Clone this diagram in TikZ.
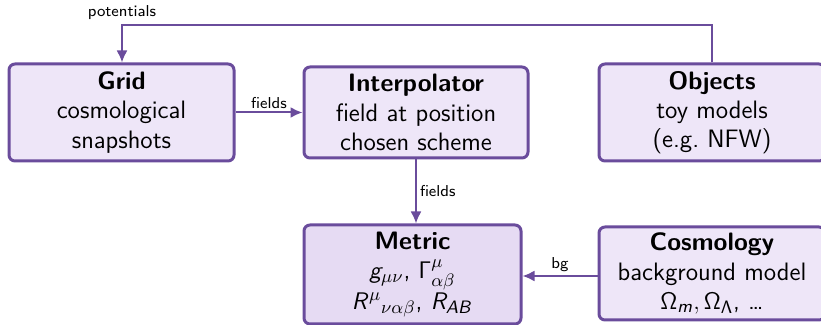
\documentclass[tikz,border=0pt]{standalone}
\usetikzlibrary{arrows.meta}
\DeclareMathAlphabet{\mathsfit}{OT1}{cmss}{m}{sl}
\definecolor{edgepurple}{RGB}{106,76,156}
\definecolor{boxfill}{RGB}{238,230,248}
\definecolor{metricfill}{RGB}{230,219,243}
\begin{document}
\begin{tikzpicture}[x=0.5pt,y=-0.5pt,
  block/.style={draw=edgepurple, fill=boxfill, line width=1.5pt, rounded corners=3pt,
    align=center, font=\sffamily\fontsize{12.6}{14.6}\selectfont, inner sep=0pt},
  flow/.style={draw=edgepurple, line width=1pt, -{Latex[length=6pt,width=5.5pt]}},
  flowlabel/.style={font=\sffamily\fontsize{7.9}{9}\selectfont, inner sep=1.5pt}]
\useasboundingbox (0,0) rectangle (821,325);
\clip (0,0) rectangle (821,325);

\node[block, minimum width=112.5pt, minimum height=48.5pt] (grid) at (121.5,112.5)
  {\textbf{Grid}\\cosmological\\snapshots};
\node[block, minimum width=112pt, minimum height=45.5pt] (interp) at (416,112.5)
  {\textbf{Interpolator}\\field at position\\chosen scheme};
\node[block, minimum width=113pt, minimum height=48.5pt] (objects) at (712,112.5)
  {\textbf{Objects}\\toy models\\(e.g.\ NFW)};
\node[block, fill=metricfill, minimum width=108.5pt, minimum height=49.5pt] (metric) at (412.5,274.5)
  {\textbf{Metric}\\
   $\mathsfit{g}_{\mu\nu}$, $\mathsf{\Gamma}^{\mu}_{\alpha\beta}$\\[0.5pt]
   $\mathsfit{R}^{\mu}{}_{\nu\alpha\beta}$, $\mathsfit{R}_{\mathsfit{AB}}$};
\node[block, minimum width=113pt, minimum height=46.5pt] (cosmo) at (712,273.5)
  {\textbf{Cosmology}\\background model\\$\mathsf{\Omega}_{\mathsfit{m}}, \mathsf{\Omega}_{\mathsf{\Lambda}}$, \dots};

% feedback of potentials from the objects to the grid
\coordinate (topright) at (712,25);
\coordinate (topleft) at (122,25);
\draw[flow] (objects.north) -- (topright) -- (topleft) -- (grid.north -| topleft);
\node[flowlabel] (potlabel) at (122,13) {potentials};

\draw[flow] (grid.east) -- node[flowlabel, above] (gridfields) {fields} (interp.west);
\draw[flow] (interp.south) -- node[flowlabel, right] (interpfields) {fields} (metric.north -| interp.south);
\draw[flow] (cosmo.west |- 0,276) -- node[flowlabel, above] (bglabel) {bg} (metric.east |- 0,276);
\end{tikzpicture}
\end{document}
